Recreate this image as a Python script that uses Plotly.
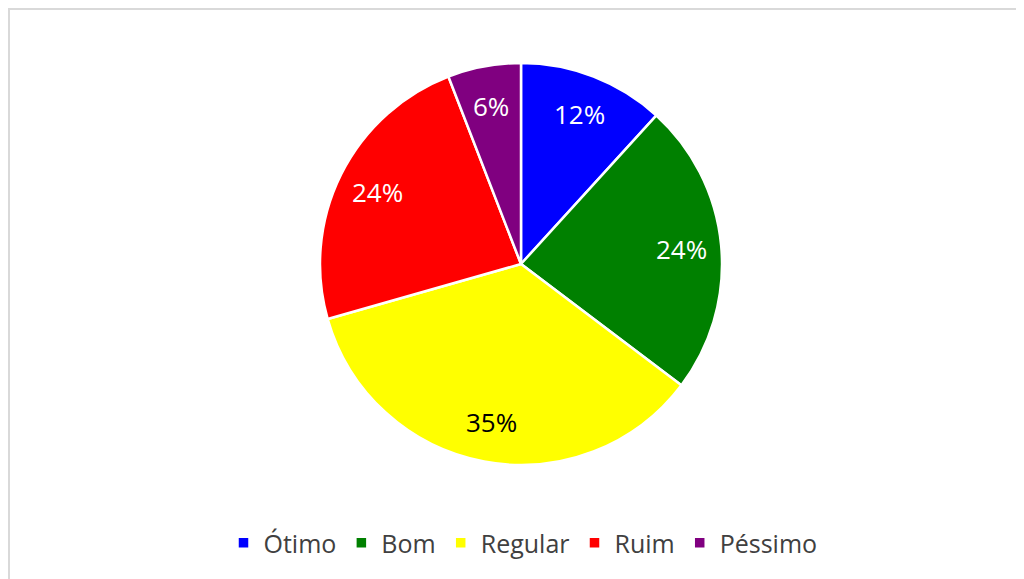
import math
import plotly.graph_objects as go

categories = ["Ótimo", "Bom", "Regular", "Ruim", "Péssimo"]
values = [2, 4, 6, 4, 1]
colors = ["#0000FF", "#008000", "#FFFF00", "#FF0000", "#800080"]
text_colors = ["white", "white", "black", "white", "white"]

W, H = 1024, 579
cx, cy, r = 513, 256, 201       # pie centre / radius in figure pixels
label_frac = 0.80               # labels sit at this fraction of the radius (Excel "best fit")

fig = go.Figure(go.Pie(
    labels=categories,
    values=values,
    sort=False,
    direction="clockwise",
    rotation=0,
    marker=dict(colors=colors, line=dict(color="white", width=2.5)),
    textinfo="none",
    hoverinfo="label+percent",
    domain=dict(x=[(cx - r) / W, (cx + r) / W], y=[(H - cy - r) / H, (H - cy + r) / H]),
))

# percentage labels placed at the mid-angle of each slice
total = sum(values)
annotations = []
cum = 0
for cat, v, tc in zip(categories, values, text_colors):
    mid = (cum + v / 2) / total * 2 * math.pi
    cum += v
    px = cx + label_frac * r * math.sin(mid)
    py = cy - label_frac * r * math.cos(mid)
    annotations.append(dict(
        x=px / W, y=(H - py) / H, xref="paper", yref="paper",
        text=f"{round(v / total * 100)}%", showarrow=False,
        font=dict(family="Open Sans", size=26, color=tc),
        xanchor="center", yanchor="middle",
    ))

fig.update_layout(
    width=W, height=H,
    margin=dict(l=0, r=0, t=0, b=0),
    paper_bgcolor="white",
    font=dict(family="Open Sans", color="#404040"),
    showlegend=True,
    legend=dict(
        orientation="h",
        x=515 / W, xanchor="center",
        y=(H - 535) / H, yanchor="middle",
        font=dict(size=25, color="#404040", family="Open Sans"),
        itemwidth=30,
        traceorder="normal",
    ),
    annotations=annotations,
    shapes=[dict(
        type="rect", xref="paper", yref="paper",
        x0=1 / W, x1=1.01, y0=-0.02, y1=1 - 1 / H,
        line=dict(color="#D9D9D9", width=2),
    )],
)

fig.write_html("out.html")
